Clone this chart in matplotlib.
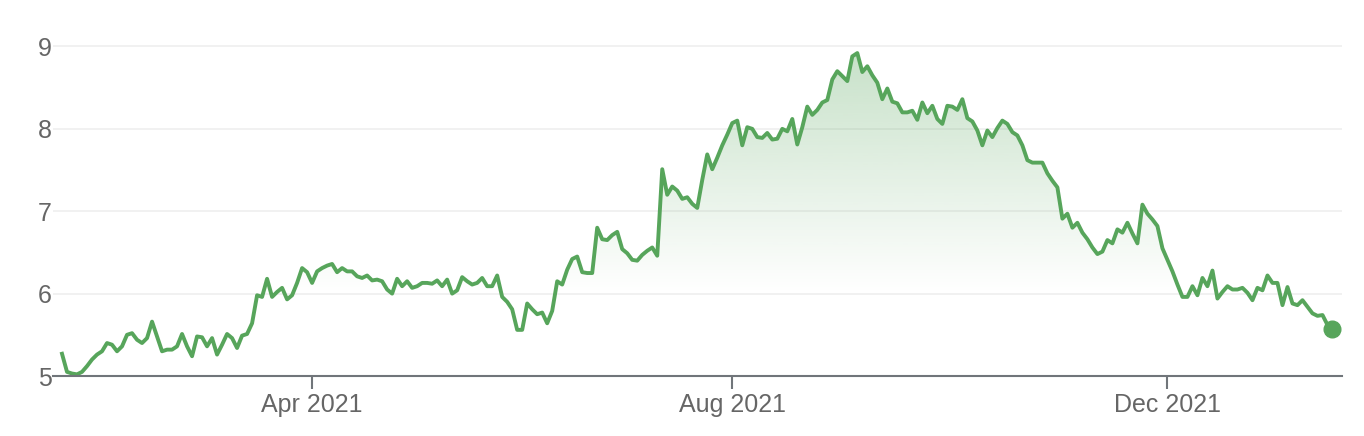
import numpy as np
import matplotlib
matplotlib.use("Agg")
import matplotlib.pyplot as plt

# price series, one value per trading day
prices_q1 = [5.27, 5.05, 5.03, 5.02, 5.05, 5.12, 5.20, 5.26, 5.30, 5.40,
             5.38, 5.30, 5.36, 5.50, 5.52, 5.44, 5.40, 5.46, 5.66, 5.48,
             5.30, 5.32, 5.32, 5.36, 5.51, 5.36, 5.24, 5.48, 5.47, 5.36,
             5.46, 5.26, 5.38, 5.51, 5.46, 5.34, 5.49, 5.51, 5.64, 5.98,
             5.96, 6.18, 5.96]
prices_q2 = [6.02, 6.07, 5.93, 5.98, 6.13, 6.31, 6.26, 6.13, 6.27, 6.31,
             6.34, 6.36, 6.26, 6.31, 6.27, 6.27, 6.21, 6.19, 6.22, 6.16,
             6.17, 6.15, 6.05, 6.00, 6.18, 6.09, 6.15, 6.07, 6.09, 6.13,
             6.13, 6.12, 6.16, 6.09, 6.17, 6.00, 6.04, 6.20, 6.15, 6.11,
             6.13, 6.19, 6.09]
prices_q3 = [6.09, 6.22, 5.96, 5.90, 5.81, 5.56, 5.56, 5.88, 5.81, 5.75,
             5.77, 5.64, 5.79, 6.15, 6.11, 6.29, 6.42, 6.45, 6.26, 6.25,
             6.25, 6.80, 6.66, 6.65, 6.71, 6.75, 6.54, 6.49, 6.41, 6.40,
             6.47, 6.52, 6.56, 6.46, 7.51, 7.20, 7.30, 7.25, 7.15, 7.17,
             7.09, 7.04, 7.38]
prices_q4 = [7.69, 7.51, 7.65, 7.80, 7.93, 8.07, 8.10, 7.80, 8.02, 8.00,
             7.90, 7.89, 7.95, 7.87, 7.88, 8.00, 7.97, 8.12, 7.81, 8.02,
             8.27, 8.17, 8.23, 8.32, 8.35, 8.60, 8.70, 8.64, 8.58, 8.88,
             8.92, 8.69, 8.76, 8.65, 8.56, 8.36, 8.49, 8.33, 8.31]
prices_q5 = [8.20, 8.20, 8.22, 8.11, 8.32, 8.19, 8.28, 8.12, 8.06, 8.28,
             8.27, 8.23, 8.36, 8.13, 8.09, 7.98, 7.80, 7.98, 7.90, 8.01,
             8.10, 8.06, 7.96, 7.92, 7.80, 7.62, 7.59, 7.59, 7.59, 7.46,
             7.37, 7.29, 6.91, 6.97, 6.80, 6.86, 6.74, 6.66, 6.56, 6.48]
prices_q6 = [6.51, 6.65, 6.61, 6.78, 6.74, 6.86, 6.73, 6.61, 7.08, 6.97,
             6.90, 6.82, 6.55, 6.41, 6.27, 6.11, 5.96, 5.96, 6.09, 5.98,
             6.19, 6.09, 6.28, 5.94, 6.02, 6.09, 6.05, 6.05, 6.07, 6.01,
             5.92, 6.07, 6.04, 6.22, 6.13, 6.13, 5.86, 6.08, 5.88, 5.86,
             5.92, 5.84, 5.76, 5.73, 5.74, 5.62, 5.57]

prices = np.array(prices_q1 + prices_q2 + prices_q3 + prices_q4 + prices_q5 + prices_q6)
days = np.arange(len(prices))

tick_days = [50, 134, 221]
tick_labels = ["Apr 2021", "Aug 2021", "Dec 2021"]
y_ticks = [5, 6, 7, 8, 9]

green = "#57a55b"
grey = "#666666"

fig = plt.figure(figsize=(13.64, 4.36), dpi=100)
ax = fig.add_axes([53 / 1364, 60 / 436, 1289 / 1364, 346 / 436])

x0, x1 = -1.8, len(prices) + 0.9
y0, y1 = 5, 9.2
ax.set_xlim(x0, x1)
ax.set_ylim(y0, y1)

# gradient fill under the line, fading out towards ~6
levels = np.linspace(y0, y1, 300)
alpha = np.clip((levels - 6.0) / (prices.max() - 6.0), 0, None) * 0.33
img = np.zeros((len(levels), 1, 4))
img[:, 0, :3] = matplotlib.colors.to_rgb(green)
img[:, 0, 3] = alpha
im = ax.imshow(img, extent=[x0, x1, y0, y1], origin="lower", aspect="auto",
               zorder=1, interpolation="bilinear")
poly = ax.fill_between(days, prices, y0, color="none", lw=0)
im.set_clip_path(poly.get_paths()[0], transform=ax.transData)

ax.plot(days, prices, color=green, lw=2.8, zorder=3)
ax.plot(days[-1], prices[-1], "o", color=green, ms=12, zorder=4)

ax.set_yticks(y_ticks)
ax.set_yticklabels([str(v) for v in y_ticks])
ax.set_xticks(tick_days)
ax.set_xticklabels(tick_labels)

ax.grid(axis="y", color="#efefef", lw=1.2, zorder=0)
ax.set_axisbelow(True)
for s in ["top", "right", "left"]:
    ax.spines[s].set_visible(False)
ax.spines["bottom"].set_color("#70757a")
ax.spines["bottom"].set_linewidth(1.5)
ax.spines["bottom"].set_zorder(5)

ax.tick_params(axis="y", length=0, pad=1, labelsize=18, labelcolor=grey)
ax.tick_params(axis="x", length=9.5, width=1.5, color="#70757a", pad=3,
               labelsize=18, labelcolor=grey)
for lab in ax.get_xticklabels() + ax.get_yticklabels():
    lab.set_fontfamily("Liberation Sans")

fig.savefig("out.png", dpi=100)
